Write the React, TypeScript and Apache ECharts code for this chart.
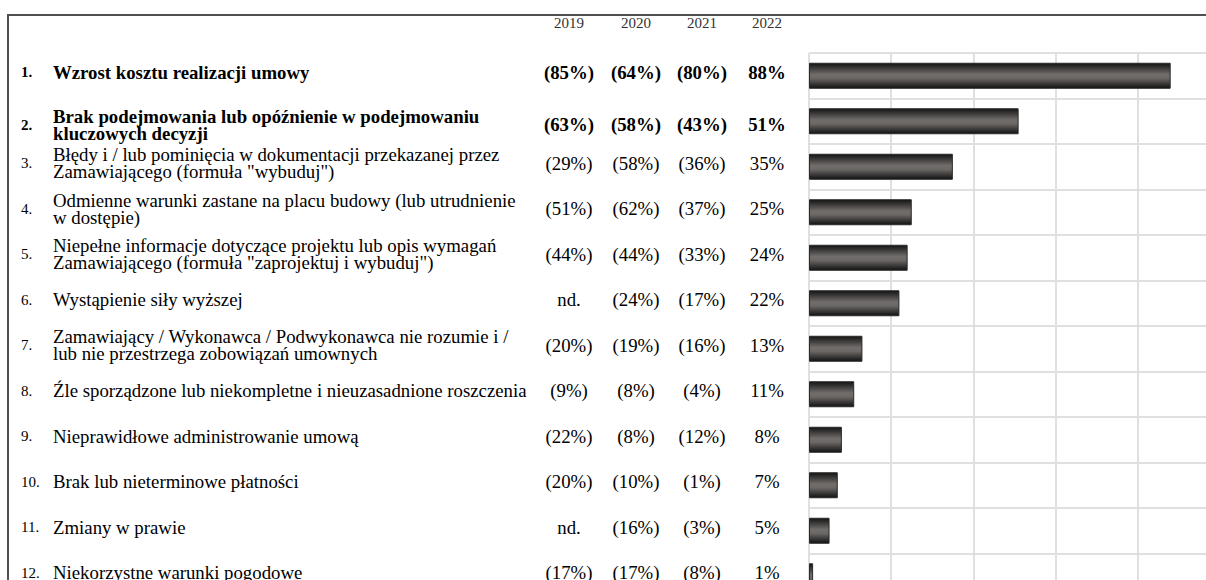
import React, { useEffect, useRef } from "react";
import * as echarts from "echarts";

const rankLabels = ["1.", "2.", "3.", "4.", "5.", "6.", "7.", "8.", "9.", "10.", "11.", "12."];
const causes = [
  "Wzrost kosztu realizacji umowy",
  "Brak podejmowania lub opóźnienie w podejmowaniu\nkluczowych decyzji",
  "Błędy i / lub pominięcia w dokumentacji przekazanej przez\nZamawiającego (formuła \"wybuduj\")",
  "Odmienne warunki zastane na placu budowy (lub utrudnienie\nw dostępie)",
  "Niepełne informacje dotyczące projektu lub opis wymagań\nZamawiającego (formuła \"zaprojektuj i wybuduj\")",
  "Wystąpienie siły wyższej",
  "Zamawiający / Wykonawca / Podwykonawca nie rozumie i /\nlub nie przestrzega zobowiązań umownych",
  "Źle sporządzone lub niekompletne i nieuzasadnione roszczenia",
  "Nieprawidłowe administrowanie umową",
  "Brak lub nieterminowe płatności",
  "Zmiany w prawie",
  "Niekorzystne warunki pogodowe",
];
const years = ["2019", "2020", "2021", "2022"];
const v2019: (number | null)[] = [85, 63, 29, 51, 44, null, 20, 9, 22, 20, null, 17];
const v2020: (number | null)[] = [64, 58, 58, 62, 44, 24, 19, 8, 8, 10, 16, 17];
const v2021: (number | null)[] = [80, 43, 36, 37, 33, 17, 16, 4, 12, 1, 3, 8];
const v2022: number[] = [88, 51, 35, 25, 24, 22, 13, 11, 8, 7, 5, 1];
const xTicks = [0, 20, 40, 60, 80, 100];

const FONT = '"Liberation Serif", "Times New Roman", serif';

export default function App() {
  const ref = useRef<HTMLDivElement>(null);
  useEffect(() => {
    const chart = echarts.init(ref.current!, null, { renderer: "svg" });
    const axisX = 809;
    const valueColX = [569, 636, 702, 767];
    const fmtPrev = (v: number | null) => (v == null ? "nd." : `(${v}%)`);
    const fmtCur = (v: number | null) => (v == null ? "nd." : `${v}%`);

    const mkRich = (size: number) => {
      const base = { fontFamily: FONT, fontSize: size, color: "#000" };
      return {
        b: { ...base, fontWeight: "bold", lineHeight: 17 },
        r: { ...base, fontWeight: "normal", lineHeight: 17 },
        // bold row shifted lower in the reference table (row 2)
        bs: { ...base, fontWeight: "bold", lineHeight: 31, height: 17, verticalAlign: "bottom" },
        rs: { ...base, fontWeight: "normal", lineHeight: 31, height: 17, verticalAlign: "bottom" },
      };
    };

    const wrap = (text: string, idx: number) => {
      const bold = idx < 2;
      return text
        .split("\n")
        .map((ln, li) => {
          const st = (bold ? "b" : "r") + (idx === 1 && li === 0 ? "s" : "");
          return `{${st}|${ln}}`;
        })
        .join("\n");
    };

    const columns = [
      { texts: rankLabels, x: 21, align: "left", size: 15 },
      { texts: causes, x: 53, align: "left", size: 18.8 },
      { texts: v2019.map(fmtPrev), x: valueColX[0], align: "center", size: 18.8 },
      { texts: v2020.map(fmtPrev), x: valueColX[1], align: "center", size: 18.8 },
      { texts: v2021.map(fmtPrev), x: valueColX[2], align: "center", size: 18.8 },
      { texts: v2022.map(fmtCur), x: valueColX[3], align: "center", size: 18.8 },
    ];

    const yAxes = columns.map((col, ci) => ({
      type: "category",
      gridIndex: 0,
      position: "left",
      inverse: true,
      data: rankLabels,
      axisLine: { show: false },
      axisTick: { show: false },
      splitLine: ci === 0 ? { show: true, interval: 0, lineStyle: { color: "#e0e0e0", width: 2 } } : { show: false },
      axisLabel: {
        show: true,
        interval: 0,
        align: col.align,
        margin: axisX - col.x,
        padding: [0, 0, 7, 0],
        fontFamily: FONT,
        fontSize: col.size,
        color: "#000",
        rich: mkRich(col.size),
        formatter: (_v: string, idx: number) => wrap(col.texts[idx], idx),
      },
    }));

    chart.setOption({
      animation: false,
      backgroundColor: "#fff",
      grid: { left: axisX, top: 53, right: -14, bottom: -19, containLabel: false, outerBoundsMode: "none" },
      xAxis: {
        type: "value",
        min: xTicks[0],
        max: xTicks[xTicks.length - 1],
        interval: 20,
        axisLabel: { show: false },
        axisLine: { show: false },
        axisTick: { show: false },
        splitLine: { show: true, lineStyle: { color: "#e0e0e0", width: 2 } },
      },
      yAxis: yAxes,
      series: [
        {
          type: "bar",
          xAxisIndex: 0,
          yAxisIndex: 0,
          data: v2022,
          barWidth: 26,
          itemStyle: {
            color: new echarts.graphic.LinearGradient(0, 0, 0, 1, [
              { offset: 0, color: "#141414" },
              { offset: 0.45, color: "#716d6b" },
              { offset: 0.6, color: "#6c6866" },
              { offset: 1, color: "#121212" },
            ]),
            borderColor: "#2a2a2a",
            borderWidth: 1,
          },
        },
      ],
      graphic: [
        {
          type: "polyline",
          silent: true,
          shape: { points: [[8, 580], [8, 15], [1206, 15]] },
          style: { stroke: "#505050", lineWidth: 2, fill: null },
        },
        ...years.map((y, i) => ({
          type: "text",
          silent: true,
          x: valueColX[i],
          y: 23,
          style: {
            text: y,
            font: `15px ${FONT}`,
            fill: "#333",
            align: "center",
            textAlign: "center",
            verticalAlign: "middle",
            textVerticalAlign: "middle",
          },
        })),
      ],
    });
    return () => chart.dispose();
  }, []);
  return <div ref={ref} style={{ position: "fixed", left: 0, top: 0, width: 1206, height: 580 }} />;
}
